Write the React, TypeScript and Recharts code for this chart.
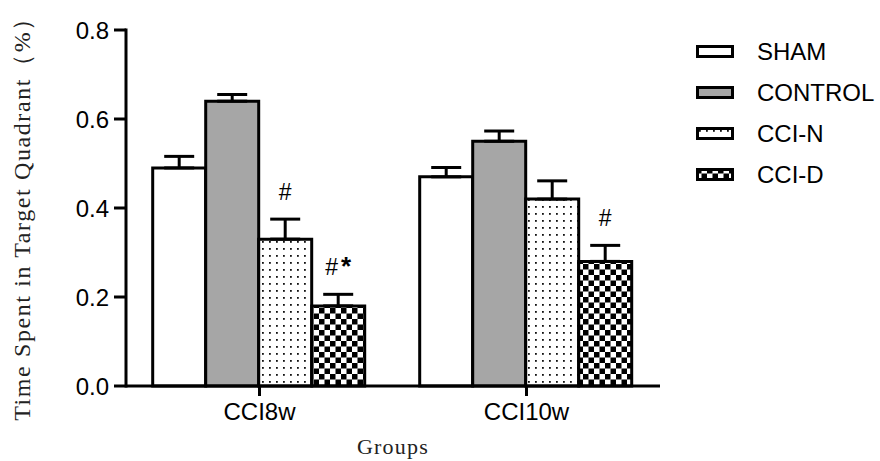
import React from 'react';
import { BarChart, Bar, XAxis, YAxis, ErrorBar, LabelList, Legend } from 'recharts';

const categories = ['CCI8w', 'CCI10w'];
const seriesNames = ['SHAM', 'CONTROL', 'CCI-N', 'CCI-D'];
const shamValues = [0.49, 0.47];
const shamErrors = [0.026, 0.021];
const controlValues = [0.64, 0.55];
const controlErrors = [0.015, 0.023];
const cciNValues = [0.33, 0.42];
const cciNErrors = [0.045, 0.041];
const cciDValues = [0.18, 0.28];
const cciDErrors = [0.026, 0.036];
const cciNMarks = ['#', ''];
const cciDMarks = ['#*', '#'];
const yTicks = [0, 0.2, 0.4, 0.6, 0.8];

const SANS = 'Arial, "Liberation Sans", sans-serif';
const SERIF = '"Liberation Serif", "Times New Roman", serif';

// only the upper half of each error bar is drawn, so low error is 0
const data = categories.map((name, i) => ({
  name,
  sham: shamValues[i],
  shamErr: [0, shamErrors[i]],
  control: controlValues[i],
  controlErr: [0, controlErrors[i]],
  cciN: cciNValues[i],
  cciNErr: [0, cciNErrors[i]],
  cciNMark: cciNMarks[i],
  cciD: cciDValues[i],
  cciDErr: [0, cciDErrors[i]],
  cciDMark: cciDMarks[i],
}));

const series = [
  { key: 'sham', name: seriesNames[0], fill: '#ffffff' },
  { key: 'control', name: seriesNames[1], fill: '#a6a6a6' },
  { key: 'cciN', name: seriesNames[2], fill: 'url(#dots)' },
  { key: 'cciD', name: seriesNames[3], fill: 'url(#checker)' },
];

const markLabel = (values: number[], errors: number[]) => (props: any) => {
  const { x, y, width, height, value, index } = props;
  if (!value || index == null) return null;
  const pxPerUnit = Number(height) / values[index];
  const capY = Number(y) - errors[index] * pxPerUnit;
  const cx = Number(x) + Number(width) / 2;
  const text = String(value);
  return (
    <text x={cx} y={capY - 19} textAnchor="middle" fontFamily={SANS} fontSize={23} fill="#000">
      {text.split('').map((ch, k) =>
        ch === '*' ? (
          <tspan key={k} dx={3} fontSize={26} fontWeight="bold">*</tspan>
        ) : (
          <tspan key={k}>{ch}</tspan>
        )
      )}
    </text>
  );
};

const renderLegend = () => (
  <div style={{ fontFamily: SANS, fontSize: 24, color: '#000' }}>
    {series.map((s) => (
      <div key={s.key} style={{ display: 'flex', alignItems: 'center', height: 41 }}>
        <svg width={38} height={13} style={{ display: 'block' }}>
          <rect x={1.5} y={1.5} width={35} height={10} fill={s.fill} stroke="#000" strokeWidth={3} />
        </svg>
        <span style={{ marginLeft: 23, lineHeight: '24px' }}>{s.name}</span>
      </div>
    ))}
  </div>
);

export default function App() {
  return (
    <div style={{ position: 'absolute', left: 0, top: 0, width: 880, height: 461, background: '#fff' }}>
      <BarChart
        width={880}
        height={461}
        data={data}
        margin={{ top: 30, right: 220, left: 0, bottom: 35 }}
        barGap={0}
        barCategoryGap="10%"
      >
        <defs>
          <pattern id="dots" width={7} height={7} patternUnits="userSpaceOnUse">
            <rect width={7} height={7} fill="#fff" />
            <rect x={3} y={3} width={1.8} height={1.8} fill="#111" />
          </pattern>
          <pattern id="checker" width={11} height={11} patternUnits="userSpaceOnUse">
            <rect width={11} height={11} fill="#fff" />
            <rect x={0} y={0} width={5.5} height={5.5} fill="#000" />
            <rect x={5.5} y={5.5} width={5.5} height={5.5} fill="#000" />
          </pattern>
        </defs>
        <XAxis
          dataKey="name"
          height={40}
          axisLine={{ stroke: '#000', strokeWidth: 3 }}
          tickLine={{ stroke: '#000', strokeWidth: 3 }}
          tickSize={10}
          tickMargin={7}
          tick={{ fontSize: 24, fill: '#000', fontFamily: SANS }}
          label={(props: any) => {
            const vb = props.viewBox || {};
            return (
              <text x={vb.x + vb.width / 2} y={454} textAnchor="middle" fontFamily={SERIF} fontSize={22} letterSpacing={1.2} fill="#222">
                Groups
              </text>
            );
          }}
        />
        <YAxis
          width={126}
          domain={[0, 0.8]}
          ticks={yTicks}
          interval={0}
          tickFormatter={(v: number) => v.toFixed(1)}
          axisLine={{ stroke: '#000', strokeWidth: 3, strokeLinecap: 'square' }}
          tickLine={{ stroke: '#000', strokeWidth: 3 }}
          tickSize={12}
          tickMargin={5}
          tick={{ fontSize: 24, fill: '#000', fontFamily: SANS }}
          label={() => (
            <text
              x={22}
              y={213}
              transform="rotate(-90 22 213)"
              textAnchor="middle"
              dominantBaseline="central"
              fontFamily={SERIF}
              fontSize={24}
              letterSpacing={1.6}
              fill="#222"
            >
              Time Spent in Target Quadrant（%）
            </text>
          )}
        />
        <Legend
          layout="horizontal"
          verticalAlign="middle"
          align="center"
          content={renderLegend}
          wrapperStyle={{ left: 696, top: 31, width: 184, height: 170 }}
        />
        <Bar dataKey="sham" name={seriesNames[0]} fill="#ffffff" stroke="#000" strokeWidth={3} isAnimationActive={false}>
          <ErrorBar dataKey="shamErr" width={15} stroke="#000" strokeWidth={3} direction="y" />
        </Bar>
        <Bar dataKey="control" name={seriesNames[1]} fill="#a6a6a6" stroke="#000" strokeWidth={3} isAnimationActive={false}>
          <ErrorBar dataKey="controlErr" width={15} stroke="#000" strokeWidth={3} direction="y" />
        </Bar>
        <Bar dataKey="cciN" name={seriesNames[2]} fill="url(#dots)" stroke="#000" strokeWidth={3} isAnimationActive={false}>
          <ErrorBar dataKey="cciNErr" width={15} stroke="#000" strokeWidth={3} direction="y" />
          <LabelList dataKey="cciNMark" content={markLabel(cciNValues, cciNErrors)} />
        </Bar>
        <Bar dataKey="cciD" name={seriesNames[3]} fill="url(#checker)" stroke="#000" strokeWidth={3} isAnimationActive={false}>
          <ErrorBar dataKey="cciDErr" width={15} stroke="#000" strokeWidth={3} direction="y" />
          <LabelList dataKey="cciDMark" content={markLabel(cciDValues, cciDErrors)} />
        </Bar>
      </BarChart>
    </div>
  );
}
